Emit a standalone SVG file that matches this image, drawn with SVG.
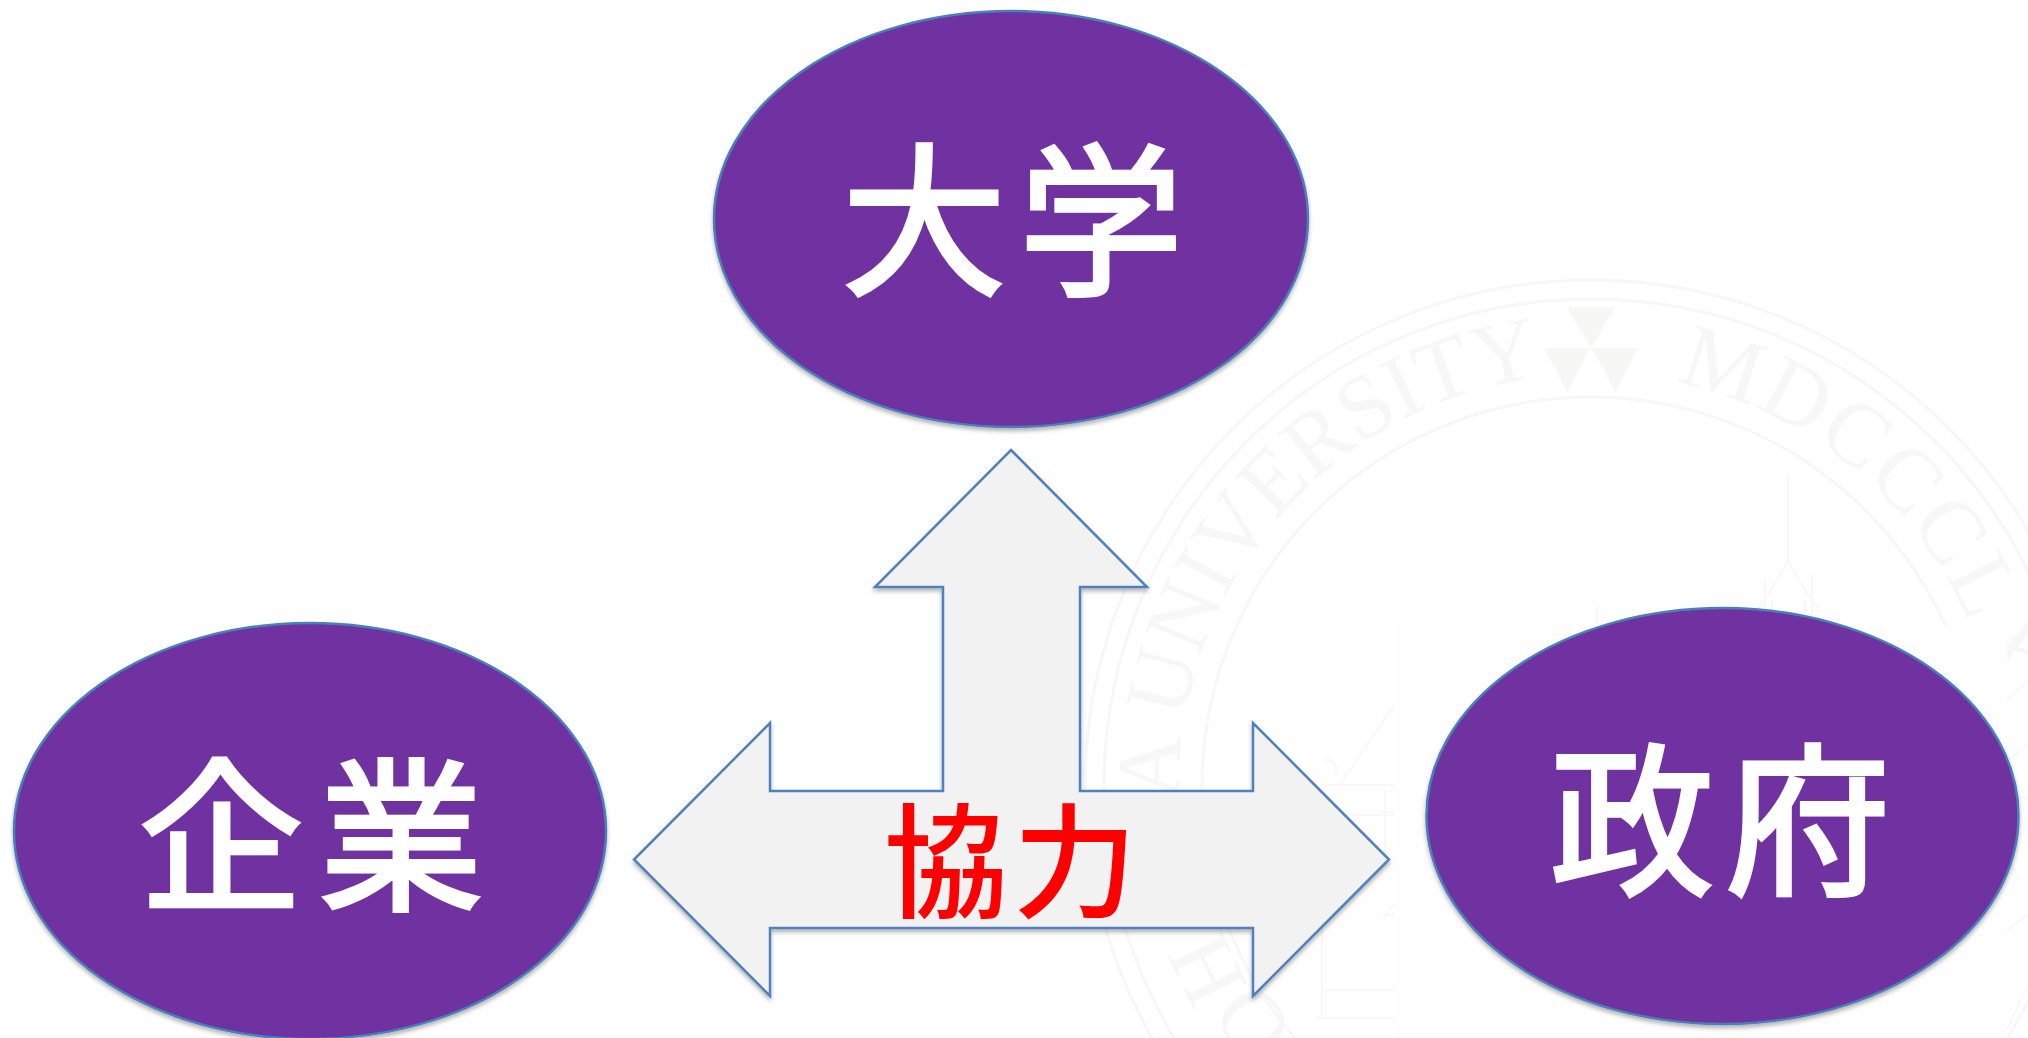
<svg xmlns="http://www.w3.org/2000/svg" xmlns:xlink="http://www.w3.org/1999/xlink" width="2028" height="1038" viewBox="0 0 2028 1038">
<style>
.ring{fill:none;stroke:#f7f7f7;stroke-width:3}
.seal{font-family:"Liberation Serif",serif;font-size:90px;fill:#f7f7f7}
.faint{fill:none;stroke:#f8f8f8;stroke-width:2}
.tri{fill:#f7f7f5}
.node{fill:#7030a0;stroke:#4a80b8;stroke-width:2.5;filter:url(#sh)}
.lbl{font-family:"Noto Sans CJK JP","Noto Sans CJK SC",sans-serif;font-size:164px;fill:#fff;stroke:#fff;stroke-width:4;text-anchor:middle}
.arrow{fill:#f2f2f2;stroke:#4f81bd;stroke-width:2.5;stroke-linejoin:miter;filter:url(#sh)}
.co{font-family:"Noto Sans CJK JP","Noto Sans CJK SC",sans-serif;font-size:124px;fill:#f00;text-anchor:middle;font-weight:500}
</style>
<defs>
<filter id="sh" x="-5%" y="-5%" width="110%" height="110%"><feDropShadow dx="0" dy="3" stdDeviation="2" flood-color="#000" flood-opacity="0.3"/></filter>
<path id="arcL" d="M 1179.300 800 A 412 412 0 0 1 1591 374"/>
<path id="arcR" d="M 1591 374 A 412 412 0 0 1 2003 786"/>
</defs>
<rect width="2028" height="1038" fill="#fff"/>
<g id="watermark">
<circle class="ring" cx="1591" cy="786" r="506"/>
<circle class="ring" cx="1591" cy="786" r="487"/>
<circle class="ring" cx="1591" cy="786" r="389"/>
<text class="seal"><textPath xlink:href="#arcL" href="#arcL" startOffset="0" textLength="612" lengthAdjust="spacing">A UNIVERSITY</textPath></text>
<text class="seal" letter-spacing="3"><textPath xlink:href="#arcR" href="#arcR" startOffset="85">MDCCCLX</textPath></text>
<text class="seal" text-anchor="middle" transform="translate(1207 970) rotate(64)" y="29">H</text>
<text class="seal" text-anchor="middle" transform="translate(1253 1023) rotate(55)" y="29">O</text>
<path class="tri" d="M1567 307H1615L1591 348ZM1544 348H1590L1567 392ZM1592 348H1638L1615 392Z"/>
<path class="faint" d="M1788 475V560M1788 560C1780 580 1770 590 1757 610M1788 560C1796 580 1806 590 1819 610M1765 580V620M1812 575V620M1772 600V625M1805 600V625M1597 605V625"/>
<path class="faint" d="M1394 705L1340 785H1394M1325 760A10 10 0 0 1 1335 775M1322 785H1340M1380 812H1394M1322 815H1394M1322 915V1018M1385 790V860M1380 915H1394M1322 990H1394M1318 1018H1394M1385 920A20 20 0 0 1 1394 905"/>
<rect x="1394" y="625" width="613" height="413" fill="#fefefe"/>
<path class="faint" d="M2007 640L2028 632M2007 700L2028 680M2007 760L2028 745M2007 790L2028 800M2007 860L2020 880M2007 930L2028 915M2007 1030L2028 985"/>
</g>
<g id="connectors">
<path id="tri-arrow" class="arrow" d="M1011 450L1147 587H1080V791H1253V723L1389 859.500L1253 996V928H770V996L634 859.500L770 723V791H943V587H875Z"/>
<text id="arrow-label" class="co" x="946 1075" y="908">協力</text>
</g>
<g id="node-university">
<ellipse class="node" cx="1011" cy="219" rx="297" ry="208"/>
<text class="lbl" x="924 1101" y="282">大学</text>
</g>
<g id="node-company">
<ellipse class="node" cx="310" cy="831" rx="296" ry="208"/>
<text class="lbl" x="221 401" y="897">企業</text>
</g>
<g id="node-government">
<ellipse class="node" cx="1722.500" cy="816" rx="296" ry="208"/>
<text class="lbl" x="1632 1808" y="882">政府</text>
</g>
</svg>
